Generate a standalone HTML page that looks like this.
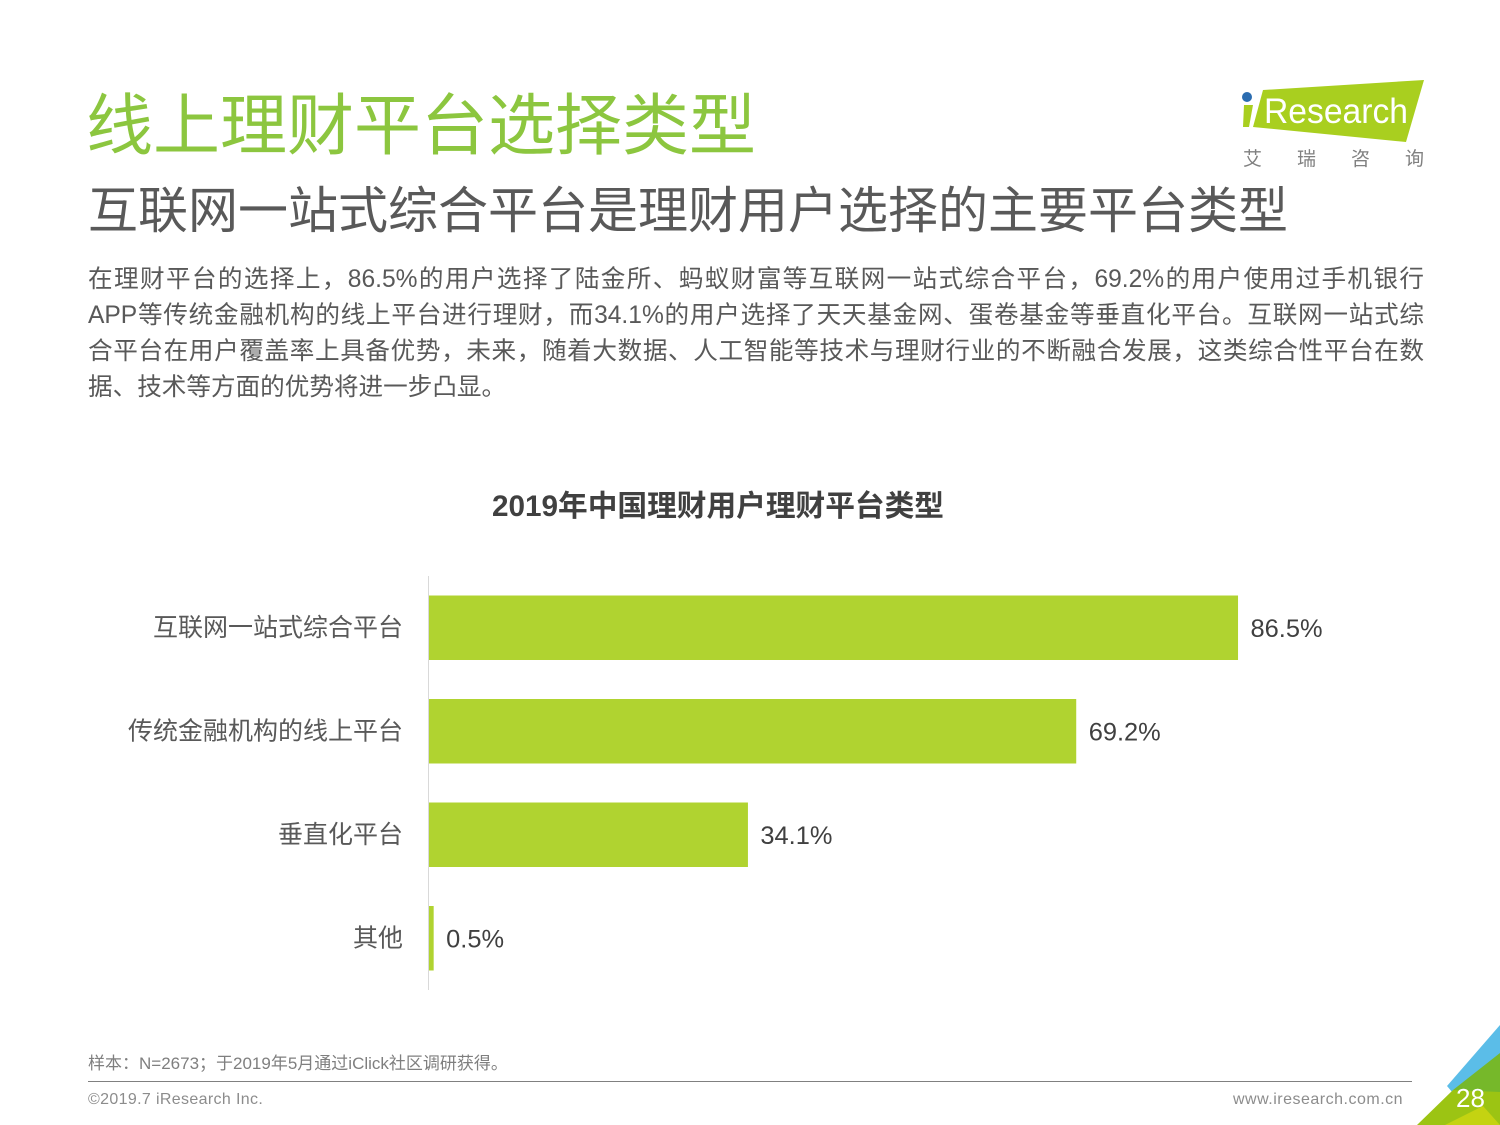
<!DOCTYPE html>
<html lang="zh">
<head>
<meta charset="utf-8">
<title>线上理财平台选择类型</title>
<style>
html,body{margin:0;padding:0;background:#fff}
body{width:1500px;height:1125px;position:relative;overflow:hidden;font-family:"Liberation Sans","Noto Sans CJK SC",sans-serif}
.t{position:absolute;white-space:nowrap;margin:0;font-weight:400}
#main-title{left:86px;top:83px;font-size:67px;line-height:88px;color:#8cc63f}
#sub-title{left:88px;top:178px;font-size:50px;line-height:66px;color:#595959}
.body-line{left:88px;width:1336px;font-size:24.6px;line-height:36px;height:36px;color:#595959;text-align:justify;text-align-last:justify;white-space:normal}
#chart-title{left:288px;width:860px;text-align:center;top:487px;font-size:29.7px;line-height:40px;font-weight:700;color:#404040}
#note{left:88px;top:1052px;font-size:17px;line-height:24px;color:#7f7f7f}
#copyright{left:88px;top:1090px;font-size:16px;line-height:20px;color:#8c8c8c;letter-spacing:.35px}
#site{left:1233px;top:1090px;font-size:16px;line-height:20px;color:#8c8c8c;letter-spacing:.5px}
#page-number{left:1456px;top:1082px;font-size:26px;line-height:32px;color:#fff}
svg{position:absolute;left:0;top:0}
</style>
</head>
<body>
<svg id="deco" width="1500" height="1125" viewBox="0 0 1500 1125">
  <polygon points="1447,1086 1500,1025 1500,1125 1480,1125" fill="#5bbde8"/>
  <polygon points="1453,1090 1500,1053 1500,1125 1470,1125" fill="#76b82a"/>
  <polygon points="1417,1125 1453,1090 1500,1092 1500,1125" fill="#9cc413"/>
  <polygon points="1445,1125 1483,1106 1500,1125" fill="#c4d311"/>
  <polygon points="1263,90 1424,80 1406,142 1253,127" fill="#a9cf1f"/>
  <polygon points="1244,105 1253,105 1249,127 1243,127" fill="#a9cf1f"/>
  <circle cx="1247" cy="97" r="5" fill="#2b6cb0"/>
  <text x="1264" y="123" font-size="35" fill="#fff" font-family="Liberation Sans, sans-serif" textLength="144" lengthAdjust="spacingAndGlyphs">Research</text>
  <g font-size="19" fill="#808080" font-family="Liberation Sans, Noto Sans CJK SC, sans-serif">
    <text x="1243" y="165">艾</text><text x="1297" y="165">瑞</text><text x="1351" y="165">咨</text><text x="1405" y="165">询</text>
  </g>
  <line x1="88" y1="1081.5" x2="1412" y2="1081.5" stroke="#808080" stroke-width="1"/>
</svg>

<h1 class="t" id="main-title">线上理财平台选择类型</h1>
<h2 class="t" id="sub-title">互联网一站式综合平台是理财用户选择的主要平台类型</h2>
<div class="t body-line" style="top:262px">在理财平台的选择上，86.5%的用户选择了陆金所、蚂蚁财富等互联网一站式综合平台，69.2%的用户使用过手机银行</div>
<div class="t body-line" style="top:298px">APP等传统金融机构的线上平台进行理财，而34.1%的用户选择了天天基金网、蛋卷基金等垂直化平台。互联网一站式综</div>
<div class="t body-line" style="top:334px">合平台在用户覆盖率上具备优势，未来，随着大数据、人工智能等技术与理财行业的不断融合发展，这类综合性平台在数</div>
<div class="t body-line" style="top:370px;width:auto;text-align-last:left;white-space:nowrap">据、技术等方面的优势将进一步凸显。</div>
<div class="t" id="chart-title">2019年中国理财用户理财平台类型</div>

<svg id="chart" width="1500" height="1125" viewBox="0 0 1500 1125"></svg>

<div class="t" id="note">样本：N=2673；于2019年5月通过iClick社区调研获得。</div>
<div class="t" id="copyright">©2019.7 iResearch Inc.</div>
<div class="t" id="site">www.iresearch.com.cn</div>
<div class="t" id="page-number">28</div>

<script>
const categories = ['互联网一站式综合平台', '传统金融机构的线上平台', '垂直化平台', '其他'];
const seriesValues = [86.5, 69.2, 34.1, 0.5];
const valueLabels = ['86.5%', '69.2%', '34.1%', '0.5%'];

const NS = 'http://www.w3.org/2000/svg';
const svg = document.getElementById('chart');
const x0 = 429, pxPerUnit = 9.353, top0 = 576, band = 103.5, barH = 64.5;
const xScale = v => x0 + v * pxPerUnit;
const yBand = i => top0 + band * i;
const font = '"Liberation Sans","Noto Sans CJK SC",sans-serif';

const axis = document.createElementNS(NS, 'line');


axis.setAttribute('x1', x0 - 0.5);
axis.setAttribute('x2', x0 - 0.5);
axis.setAttribute('y1', yBand(0));
axis.setAttribute('y2', yBand(categories.length));
axis.setAttribute('stroke', '#d9d9d9');
axis.setAttribute('stroke-width', '1');
svg.appendChild(axis);

categories.forEach((c, i) => {
  const y = yBand(i) + (band - barH) / 2;
  const mid = y + barH / 2;

  const bar = document.createElementNS(NS, 'rect');
  
  
  bar.setAttribute('x', x0);
  bar.setAttribute('y', y);
  bar.setAttribute('width', xScale(seriesValues[i]) - x0);
  bar.setAttribute('height', barH);
  bar.setAttribute('fill', '#b0d330');
  svg.appendChild(bar);

  const cat = document.createElementNS(NS, 'text');
  
  
  cat.setAttribute('x', 403);
  cat.setAttribute('y', mid + 8);
  cat.setAttribute('text-anchor', 'end');
  cat.setAttribute('font-size', '25');
  cat.setAttribute('fill', '#595959');
  cat.setAttribute('font-family', font);
  cat.textContent = c;
  svg.appendChild(cat);

  const val = document.createElementNS(NS, 'text');
  
  
  val.setAttribute('x', xScale(seriesValues[i]) + 12.5);
  val.setAttribute('y', mid + 9);
  val.setAttribute('font-size', '25.4');
  val.setAttribute('fill', '#404040');
  val.setAttribute('font-family', font);
  val.textContent = valueLabels[i];
  svg.appendChild(val);
});
</script>
</body>
</html>
